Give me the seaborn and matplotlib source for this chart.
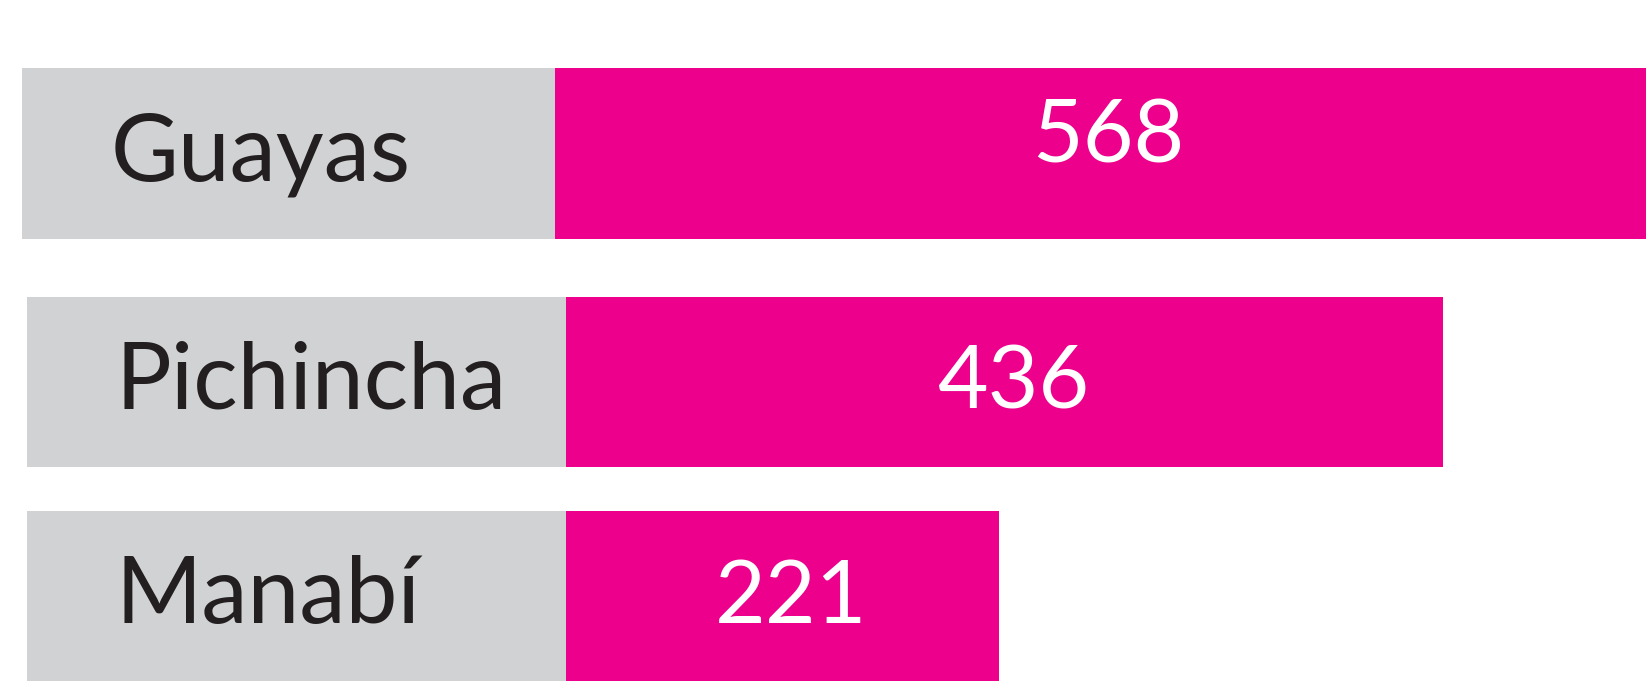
import matplotlib
matplotlib.use("Agg")
import matplotlib.pyplot as plt
import seaborn as sns
import pandas as pd

provinces = ["Guayas", "Pichincha", "Manabí"]
counts = [568, 436, 221]

PINK = "#EC008C"
GRAY = "#D1D2D4"
DARK = "#231F20"

W, H = 1646, 682
PX_PER_UNIT = 2.065
ZERO_SHIFT = 23  # bar zero sits a little under the grey label box

# pixel layout of each row: (top, bottom, gray start, pink start, value lift)
rows = [(68, 239, 22, 555, 18), (297, 467, 27, 566, 0), (511, 681, 27, 566, 0)]

sns.set_theme(style="white")
plt.rcParams["font.family"] = ["Lato", "DejaVu Sans"]

fig = plt.figure(figsize=(W / 100, H / 100), dpi=100)

for name, val, (top, bottom, gx, px, lift) in zip(provinces, counts, rows):
    ax = fig.add_axes([gx / W, 1 - bottom / H, (W - gx) / W, (bottom - top) / H])
    df = pd.DataFrame({"provincia": [name], "casos": [val]})
    sns.barplot(data=df, x="casos", y="provincia", orient="h", color=PINK,
                saturation=1, width=1, linewidth=0, ax=ax)
    zero = px - ZERO_SHIFT
    xmin = -(zero - gx) / PX_PER_UNIT
    xmax = (W - zero) / PX_PER_UNIT
    gray_end = ZERO_SHIFT / PX_PER_UNIT
    ax.set_xlim(xmin, xmax)
    ax.set_ylim(0.5, -0.5)
    ax.axvspan(xmin, gray_end, color=GRAY, lw=0, zorder=5)
    ax.axis("off")

    hgt = bottom - top
    base = 0.5 - 27 / hgt
    tr = ax.get_xaxis_transform()
    ax.text(xmin + 89 / PX_PER_UNIT, base, name, transform=tr, zorder=6,
            ha="left", va="baseline", fontsize=67, color=DARK)
    ax.text((gray_end + min(val, xmax)) / 2 + 4, base + lift / hgt, str(val),
            transform=tr, zorder=6,
            ha="center", va="baseline", fontsize=63, color="white")

fig.savefig("out.png", dpi=100, facecolor="white")
